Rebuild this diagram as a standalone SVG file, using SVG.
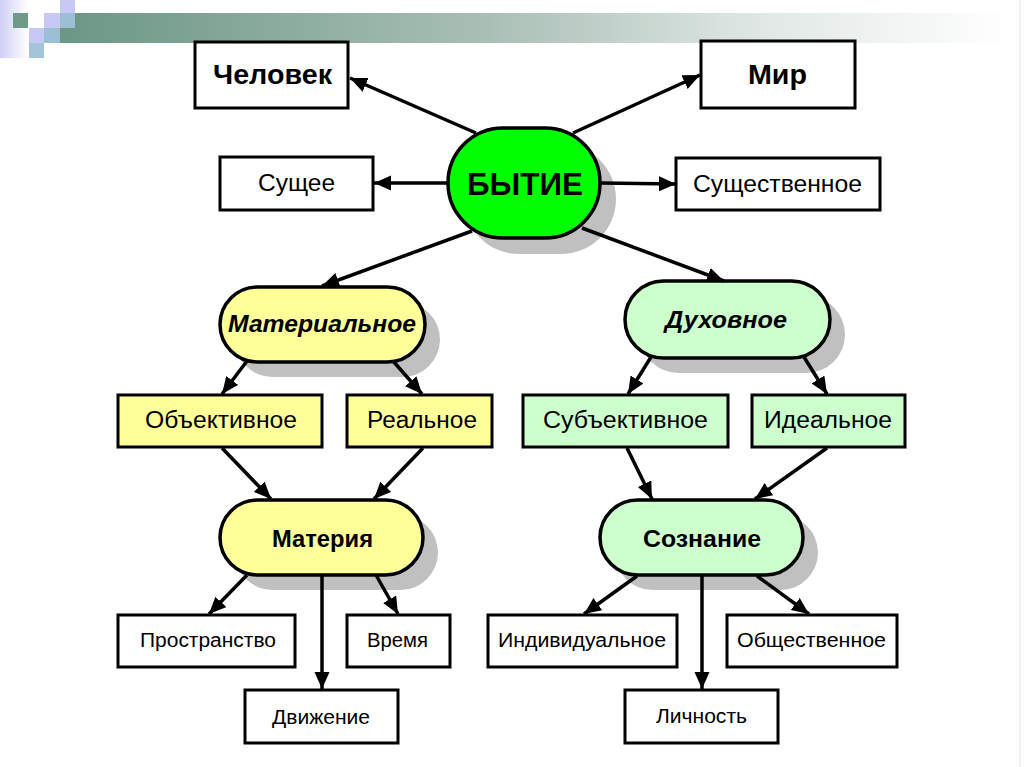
<svg xmlns="http://www.w3.org/2000/svg" width="1024" height="767" viewBox="0 0 1024 767">
<defs>
<linearGradient id="ban" x1="0" y1="0" x2="1" y2="0">
<stop offset="0" stop-color="#6b9786"/>
<stop offset="0.45" stop-color="#a9bfb6"/>
<stop offset="0.75" stop-color="#e2e9e6"/>
<stop offset="1" stop-color="#ffffff"/>
</linearGradient>
<linearGradient id="lav" x1="0" y1="0" x2="1" y2="0">
<stop offset="0" stop-color="#cfcff6"/>
<stop offset="1" stop-color="#ffffff"/>
</linearGradient>
<marker id="ah" markerUnits="userSpaceOnUse" markerWidth="20" markerHeight="18" refX="17" refY="7.5" orient="auto">
<path d="M0,0 L17,7.5 L0,15 z" fill="#000"/>
</marker>
<style>
.box{stroke:#000;stroke-width:3;}
.pill{stroke:#000;stroke-width:3.5;}
.sh{fill:#c0c0c0;}
.w{fill:#fff;}
.y{fill:#ffff99;}
.g{fill:#ccffcc;}
.t{font-family:"Liberation Sans",Arial,sans-serif;fill:#000;text-anchor:middle;}
.b{font-weight:bold;}
.i{font-style:italic;}
.r{font-size:23px;}
.s{font-size:19.5px;}
#conn line{stroke:#000;stroke-width:3.5;marker-end:url(#ah);}
</style>
</defs>
<rect width="1024" height="767" fill="#fff"/>
<g id="decor">
<rect x="0" y="0" width="28" height="58" fill="url(#lav)"/>
<rect x="60" y="13" width="950" height="30" fill="url(#ban)"/>
<rect x="13" y="13" width="15" height="15" fill="#6f9a88"/>
<rect x="60" y="0" width="15" height="13" fill="#c8c8f4"/>
<rect x="44" y="13" width="16" height="15" fill="#c8c8f4"/>
<rect x="60" y="13" width="15" height="15" fill="#9dbfd6"/>
<rect x="29" y="28" width="15" height="15" fill="#c8c8f4"/>
<rect x="44" y="28" width="16" height="15" fill="#9dbfd6"/>
<rect x="29" y="43" width="15" height="15" fill="#a4c4da"/>
<line x1="1020" y1="0" x2="1020" y2="767" stroke="#e6e6e6" stroke-width="1"/>
</g>
<g id="n-chelovek">
<rect class="box w" x="195" y="42" width="153" height="66"/>
<text class="t b" x="272.5" y="84" font-size="27" textLength="119" lengthAdjust="spacingAndGlyphs">Человек</text>
</g>
<g id="n-mir">
<rect class="box w" x="701" y="41" width="154" height="67"/>
<text class="t b" x="777.5" y="84" font-size="27" textLength="59" lengthAdjust="spacingAndGlyphs">Мир</text>
</g>
<g id="n-sushchee">
<rect class="box w" x="220" y="157" width="153" height="53"/>
<text class="t r" x="296.5" y="191" textLength="77" lengthAdjust="spacingAndGlyphs">Сущее</text>
</g>
<g id="n-sushchestvennoe">
<rect class="box w" x="676" y="158" width="204" height="52"/>
<text class="t r" x="777.5" y="192" textLength="169" lengthAdjust="spacingAndGlyphs">Существенное</text>
</g>
<g id="n-bytie">
<rect class="sh" x="464" y="144" width="152" height="110" rx="55"/>
<rect class="pill" x="448" y="128" width="152" height="110" rx="55" fill="#00ff00"/>
<text class="t b" x="525" y="195" font-size="32" textLength="116" lengthAdjust="spacingAndGlyphs">БЫТИЕ</text>
</g>
<g id="n-materialnoe">
<rect class="sh" x="235" y="302" width="205" height="75" rx="37.5"/>
<rect class="pill y" x="220" y="287" width="205" height="75" rx="37.5"/>
<text class="t b i" x="322" y="332" font-size="23" textLength="188" lengthAdjust="spacingAndGlyphs">Материальное</text>
</g>
<g id="n-dukhovnoe">
<rect class="sh" x="640" y="296" width="205" height="77" rx="38.5"/>
<rect class="pill g" x="625" y="281" width="205" height="77" rx="38.5"/>
<text class="t b i" x="726" y="328" font-size="23" textLength="122" lengthAdjust="spacingAndGlyphs">Духовное</text>
</g>
<g id="n-obektivnoe">
<rect class="box y" x="118" y="395" width="204" height="52"/>
<text class="t r" x="221" y="428" textLength="152" lengthAdjust="spacingAndGlyphs">Объективное</text>
</g>
<g id="n-realnoe">
<rect class="box y" x="347" y="395" width="145" height="52"/>
<text class="t r" x="422" y="428" textLength="110" lengthAdjust="spacingAndGlyphs">Реальное</text>
</g>
<g id="n-subektivnoe">
<rect class="box g" x="523" y="395" width="205" height="52"/>
<text class="t r" x="625.5" y="428" textLength="165" lengthAdjust="spacingAndGlyphs">Субъективное</text>
</g>
<g id="n-idealnoe">
<rect class="box g" x="752" y="395" width="153" height="52"/>
<text class="t r" x="828" y="428" textLength="128" lengthAdjust="spacingAndGlyphs">Идеальное</text>
</g>
<g id="n-materiya">
<rect class="sh" x="235" y="515" width="203" height="75" rx="37.5"/>
<rect class="pill y" x="220" y="500" width="203" height="75" rx="37.5"/>
<text class="t b" x="322.5" y="547" font-size="23" textLength="101" lengthAdjust="spacingAndGlyphs">Материя</text>
</g>
<g id="n-soznanie">
<rect class="sh" x="615" y="515" width="203" height="75" rx="37.5"/>
<rect class="pill g" x="600" y="500" width="203" height="75" rx="37.5"/>
<text class="t b" x="702" y="547" font-size="23" textLength="118" lengthAdjust="spacingAndGlyphs">Сознание</text>
</g>
<g id="n-prostranstvo">
<rect class="box w" x="118" y="615" width="177" height="52"/>
<text class="t s" x="208" y="647" textLength="136" lengthAdjust="spacingAndGlyphs">Пространство</text>
</g>
<g id="n-vremya">
<rect class="box w" x="347" y="615" width="103" height="52"/>
<text class="t s" x="397.5" y="647" textLength="61" lengthAdjust="spacingAndGlyphs">Время</text>
</g>
<g id="n-dvizhenie">
<rect class="box w" x="245" y="690" width="153" height="53"/>
<text class="t s" x="321" y="724" textLength="98" lengthAdjust="spacingAndGlyphs">Движение</text>
</g>
<g id="n-individualnoe">
<rect class="box w" x="488" y="615" width="189" height="52"/>
<text class="t s" x="582" y="647" textLength="168" lengthAdjust="spacingAndGlyphs">Индивидуальное</text>
</g>
<g id="n-obshchestvennoe">
<rect class="box w" x="727" y="615" width="170" height="52"/>
<text class="t s" x="811.5" y="647" textLength="149" lengthAdjust="spacingAndGlyphs">Общественное</text>
</g>
<g id="n-lichnost">
<rect class="box w" x="625" y="690" width="153" height="53"/>
<text class="t s" x="701.5" y="723" textLength="91" lengthAdjust="spacingAndGlyphs">Личность</text>
</g>
<g id="conn">
<line x1="476" y1="133" x2="350" y2="78"/>
<line x1="573" y1="133" x2="700" y2="75"/>
<line x1="447" y1="183" x2="374" y2="183"/>
<line x1="601" y1="183" x2="676" y2="184"/>
<line x1="472" y1="231" x2="322" y2="286"/>
<line x1="582" y1="228" x2="724" y2="281"/>
<line x1="247" y1="361" x2="222" y2="394"/>
<line x1="393" y1="361" x2="422" y2="394"/>
<line x1="222" y1="448" x2="271" y2="499"/>
<line x1="423" y1="448" x2="374" y2="499"/>
<line x1="247" y1="575" x2="209" y2="614"/>
<line x1="376" y1="575" x2="398" y2="614"/>
<line x1="322" y1="576" x2="322" y2="689"/>
<line x1="651" y1="357" x2="628" y2="394"/>
<line x1="804" y1="357" x2="827" y2="394"/>
<line x1="627" y1="448" x2="652" y2="499"/>
<line x1="827" y1="448" x2="755" y2="499"/>
<line x1="637" y1="576" x2="584" y2="614"/>
<line x1="757" y1="576" x2="809" y2="614"/>
<line x1="702" y1="576" x2="702" y2="689"/>
</g>
</svg>
